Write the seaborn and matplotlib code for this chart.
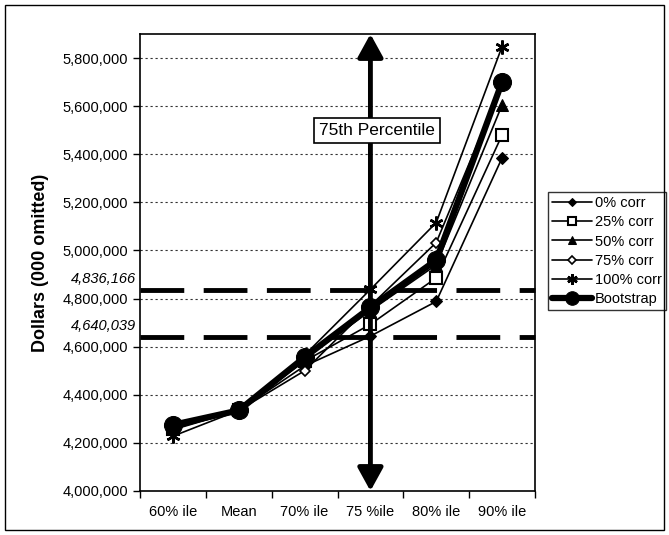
import numpy as np
import pandas as pd
import matplotlib
matplotlib.use("Agg")
import matplotlib.pyplot as plt
import seaborn as sns
from matplotlib.ticker import FuncFormatter, FixedLocator
from matplotlib.patches import Rectangle

categories = ["60% ile", "Mean", "70% ile", "75 %ile", "80% ile", "90% ile"]
corr0 = [4262000, 4335000, 4520000, 4644000, 4788000, 5385000]
corr25 = [4258000, 4335000, 4540000, 4693000, 4886000, 5480000]
corr50 = [4262000, 4335000, 4550000, 4750000, 4940000, 5605000]
corr75 = [4255000, 4335000, 4500000, 4770000, 5033000, 5690000]
corr100 = [4228000, 4335000, 4565000, 4838000, 5116000, 5848000]
bootstrap = [4275000, 4335000, 4556000, 4763000, 4960000, 5700000]
series_names = ["0% corr", "25% corr", "50% corr", "75% corr", "100% corr", "Bootstrap"]
ref_lines = [4836166, 4640039]
ref_labels = ["4,836,166", "4,640,039"]
y_ticks = [4000000, 4200000, 4400000, 4600000, 4800000, 5000000, 5200000, 5400000, 5600000, 5800000]

sns.set_style("white")
plt.rcParams['font.family'] = ['Liberation Sans', 'DejaVu Sans']
for k in ["text.color", "axes.labelcolor", "xtick.color", "ytick.color"]:
    plt.rcParams[k] = "black"

fig = plt.figure(figsize=(6.69, 5.35), dpi=100)
ax = fig.add_axes([140/669, (535-491)/535, (535-140)/669, (491-34)/535])

x = np.arange(len(categories))
all_series = [corr0, corr25, corr50, corr75, corr100, bootstrap]
styles = [
    dict(marker="D", markersize=6, markerfacecolor="black", lw=1.2),
    dict(marker="s", markersize=8, markerfacecolor="white", markeredgewidth=1.5, lw=1.2),
    dict(marker="^", markersize=8, markerfacecolor="black", lw=1.2),
    dict(marker="D", markersize=5.5, markerfacecolor="white", markeredgewidth=1.2, lw=1.2),
    dict(marker=(6, 2, 0), markersize=10, markeredgewidth=1.8, lw=1.2),
    dict(marker="o", markersize=13, markerfacecolor="black", lw=4.5),
]

# grid
for v in y_ticks[1:]:
    ax.axhline(v, color="#333333", lw=0.8, ls=(0, (2, 2.5)), zorder=0)

for vals, name, st in zip(all_series, series_names, styles):
    df = pd.DataFrame({"x": x, "y": vals})
    sns.lineplot(data=df, x="x", y="y", ax=ax, color="black", label=name,
                 markeredgecolor="black", sort=False, zorder=3, **st)

# reference dashed lines
for v, lab in zip(ref_lines, ref_labels):
    ax.axhline(v, color="black", lw=3.5, ls=(0, (9, 4)), zorder=4, clip_on=False)
    ax.text(-0.01, v + 15000, lab, transform=ax.get_yaxis_transform(), ha="right", va="bottom",
            fontsize=10.5, fontstyle="italic")

# vertical double arrow
ax.annotate("", xy=(3, 4000000), xytext=(3, 5900000),
            arrowprops=dict(arrowstyle="<|-|>,head_length=1.0,head_width=0.55", lw=3.5,
                            color="black", mutation_scale=14, shrinkA=0, shrinkB=0),
            zorder=5)
ax.text(3.1, 5500000, "75th Percentile", ha="center", va="center", fontsize=12.5,
        bbox=dict(boxstyle="square,pad=0.3", fc="white", ec="black", lw=1.2), zorder=6)

ax.set_xlim(-0.5, 5.5)
ax.set_ylim(4000000, 5900000)
ax.set_yticks(y_ticks)
ax.yaxis.set_major_formatter(FuncFormatter(lambda v, p: f"{int(v):,}"))
ax.set_xticks(x)
ax.set_xticklabels(categories)
ax.xaxis.set_minor_locator(FixedLocator(np.arange(-0.5, 6, 1)))
ax.tick_params(axis="x", which="major", length=0, pad=10, labelsize=10.5)
ax.tick_params(axis="x", which="minor", length=5, width=1, direction="out", color="black", bottom=True)
ax.tick_params(axis="y", length=5, width=1, direction="out", color="black", left=True, labelsize=10.5)
ax.set_xlabel("")
ax.set_ylabel("Dollars (000 omitted)", fontsize=13, fontweight="bold", labelpad=10)
for s in ax.spines.values():
    s.set_color("black")
    s.set_linewidth(1.2)

leg = ax.legend(loc="upper left", bbox_to_anchor=(548/669, (535-192)/535),
                bbox_transform=fig.transFigure, frameon=True, fancybox=False,
                fontsize=10.5, handlelength=2.7, handletextpad=0.2, labelspacing=0.35,
                borderpad=0.3, borderaxespad=0, markerscale=0.75)
leg.get_frame().set_edgecolor("black")
leg.get_frame().set_linewidth(1)

fig.patches.append(Rectangle((5/669, 5/535), 659/669, 525/535, transform=fig.transFigure,
                             fill=False, ec="black", lw=1))

fig.savefig("out.png", dpi=100)
